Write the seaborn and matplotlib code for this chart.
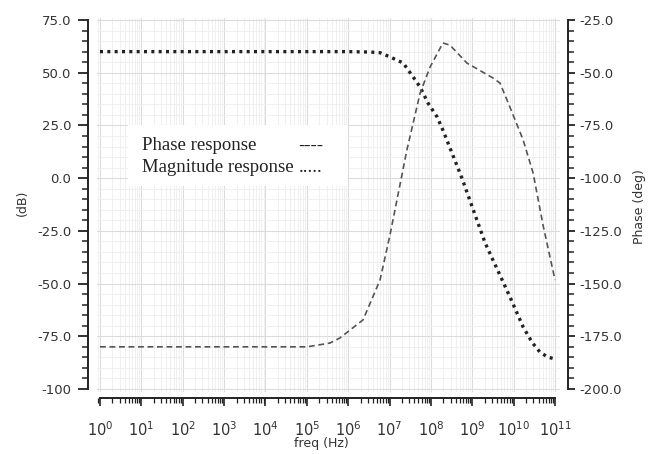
import numpy as np
import pandas as pd
import matplotlib
matplotlib.use("Agg")
import matplotlib.pyplot as plt
import matplotlib.ticker as mticker
from matplotlib.patches import Rectangle
import seaborn as sns

# ---- data ----
mag_logf = [0, 1, 2, 3, 4, 5, 6, 6.53, 6.77, 7.01, 7.33, 7.57, 7.74, 7.93, 8.15, 8.29,
            8.75, 9.31, 9.91, 10.23, 10.45, 10.64, 10.82, 11.0]
mag_db = [60, 60, 60, 60, 60, 60, 60, 59.8, 59.5, 57.5, 54.6, 48.0, 43.2, 35.6, 29.0, 22.8,
          0.0, -30.7, -56.3, -70.6, -78.0, -82.6, -84.8, -85.8]

ph_logf = [0, 1, 2, 3, 4, 5, 5.32, 5.56, 5.80, 6.36, 6.77, 7.01, 7.42, 7.74, 7.98, 8.29,
           8.46, 8.87, 9.50, 9.67, 9.91, 10.23, 10.47, 10.71, 11.0]
ph_deg = [-180, -180, -180, -180, -180, -180, -179, -178.2, -175.8, -167.2, -148.3, -127,
          -86.6, -59.6, -47.3, -35.9, -36.9, -45.4, -52.5, -54.9, -66.3, -81.9, -97.5,
          -122.2, -148.3]

left_ticks = [75, 50, 25, 0, -25, -50, -75, -100]
left_labels = ["75.0", "50.0", "25.0", "0.0", "-25.0", "-50.0", "-75.0", "-100"]
right_ticks = [-25, -50, -75, -100, -125, -150, -175, -200]
right_labels = ["-25.0", "-50.0", "-75.0", "-100.0", "-125.0", "-150.0", "-175.0", "-200.0"]
x_exponents = list(range(0, 12))

legend_rows = [("Phase response", "----"), ("Magnitude response", ".....")]

mag = pd.DataFrame({"freq": np.power(10.0, mag_logf), "dB": mag_db})
ph = pd.DataFrame({"freq": np.power(10.0, ph_logf), "deg": ph_deg})

sns.set_style("ticks")
plt.rcParams["font.family"] = ["DejaVu Sans"]

W, H = 661, 454
fig = plt.figure(figsize=(W / 100, H / 100), dpi=100)
L, R, T, B = 97, 560, 18, 392
ax = fig.add_axes([L / W, (H - B) / H, (R - L) / W, (B - T) / H])
ax.set_xscale("log")
ax2 = ax.twinx()

# curves
sns.lineplot(data=ph, x="freq", y="deg", ax=ax2, color="#555555", lw=1.2,
             linestyle=(0, (3.5, 2.2)))
sns.lineplot(data=mag, x="freq", y="dB", ax=ax, color="#222222", lw=2.4,
             linestyle=(0, (0.9, 1.3)))

# scales (after plotting)
ppd = 41.36
ax.set_xlim(10 ** (-3 / ppd), 10 ** (11 + 5 / ppd))
ppu = 369 / 175
ylo, yhi = -100 - 3 / ppu, 75 + 2 / ppu
ax.set_ylim(ylo, yhi)
ax2.set_ylim(ylo - 100, yhi - 100)

# ticks / locators
xt = [10.0 ** e for e in x_exponents]
ax.xaxis.set_major_locator(mticker.FixedLocator(xt))
ax.xaxis.set_major_formatter(mticker.FixedFormatter(
    [r"$\mathregular{10^{%d}}$" % e for e in x_exponents]))
ax.xaxis.set_minor_locator(mticker.LogLocator(base=10, subs=np.arange(2, 10), numticks=100))
ax.xaxis.set_minor_formatter(mticker.NullFormatter())
ax.set_yticks(left_ticks)
ax.set_yticklabels(left_labels)
ax.yaxis.set_minor_locator(mticker.MultipleLocator(5))
ax2.set_yticks(right_ticks)
ax2.set_yticklabels(right_labels)
ax2.yaxis.set_minor_locator(mticker.MultipleLocator(5))

# grid
ax.set_axisbelow(True)
ax.grid(which="major", color="#dcdcdc", lw=0.8)
ax.grid(which="minor", color="#eeeeee", lw=0.6)

# spines
for a in (ax, ax2):
    a.spines["top"].set_visible(False)
ax.spines["right"].set_visible(False)
ax2.spines["left"].set_visible(False)
ax2.spines["bottom"].set_visible(False)
ax.spines["left"].set_position(("outward", 9 * 0.72))
ax.spines["left"].set_bounds(-100, 75)
ax.spines["bottom"].set_position(("outward", 6 * 0.72))
ax.spines["bottom"].set_bounds(1, 1e11)
ax2.spines["right"].set_position(("outward", 8 * 0.72))
ax2.spines["right"].set_bounds(-200, -25)
for s in (ax.spines["left"], ax.spines["bottom"], ax2.spines["right"]):
    s.set_color("#222222")
    s.set_linewidth(1.4)

ax.tick_params(axis="y", which="major", length=7, width=1.3, color="#222222",
               labelsize=9.5, labelcolor="#333333", pad=5)
ax.tick_params(axis="y", which="minor", length=4, width=1.1, color="#222222")
ax2.tick_params(axis="y", which="major", length=5, width=1.3, color="#222222",
                labelsize=9.5, labelcolor="#333333", pad=3)
ax2.tick_params(axis="y", which="minor", length=4, width=1.1, color="#222222")
ax.tick_params(axis="x", which="major", length=6, width=1.2, color="#222222",
               labelsize=10.5, labelcolor="#333333", pad=10)
ax.tick_params(axis="x", which="minor", length=3.5, width=0.9, color="#222222")
ax2.tick_params(axis="x", which="both", length=0, labelbottom=False)

ax.set_xlabel("")
ax.set_ylabel("")
ax2.set_ylabel("")
fig.text(321 / W, 1 - 444 / H, "freq (Hz)", ha="center", va="center",
         fontsize=9, color="#333333")
fig.text(22 / W, 1 - 203 / H, "(dB)", ha="center", va="center", rotation=90,
         fontsize=9, color="#333333")
fig.text(640 / W, 1 - 207 / H, "Phase (deg)", ha="center", va="center", rotation=90,
         fontsize=9, color="#333333")

# legend box drawn as text (as in the original)
fig.patches.append(Rectangle((128 / W, 1 - 186 / H), (348 - 128) / W, (186 - 125) / H,
                             transform=fig.transFigure, facecolor="white",
                             edgecolor="none", zorder=5))
ys = [146, 168]
for (name, mark), y in zip(legend_rows, ys):
    fig.text(142 / W, 1 - y / H, name, ha="left", va="center", fontsize=13.5,
             family="Liberation Serif", color="#222222", zorder=6)
    fig.text(323 / W, 1 - y / H, mark, ha="right", va="center", fontsize=13.5,
             family="Liberation Serif", color="#222222", zorder=6)

fig.savefig("out.png", dpi=100, facecolor="white")
